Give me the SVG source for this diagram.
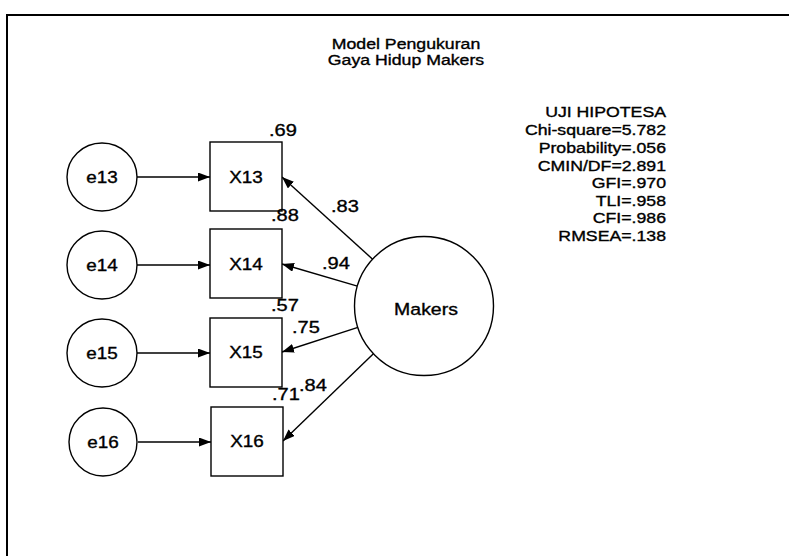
<svg xmlns="http://www.w3.org/2000/svg" width="789" height="556" viewBox="0 0 789 556">
<style>
text{font-family:"Liberation Sans",Arial,sans-serif;fill:#000;stroke:#000;stroke-width:0.35}
.t{font-size:15px;text-anchor:middle}
.s{font-size:15px;text-anchor:end}
.n{font-size:16px;text-anchor:middle}
.m{font-size:16.5px;text-anchor:middle}
.v{font-size:17px;text-anchor:start}
.shape{fill:#fff;stroke:#000;stroke-width:1.4}
.conn{stroke:#000;stroke-width:1.4;fill:none;marker-end:url(#ah)}
</style>
<defs>
<marker id="ah" markerWidth="14" markerHeight="10" refX="12" refY="4.5" orient="auto" markerUnits="userSpaceOnUse">
<path d="M0,0 L12,4.5 L0,9 z" fill="#000"/>
</marker>
</defs>
<rect width="789" height="556" fill="#fff"/>
<g id="frame" fill="none" stroke="#000" stroke-width="2">
<path d="M7,556 L7,15 L789,15"/>
</g>
<g id="title">
<text class="t" transform="translate(406,49) scale(1.18,1)">Model Pengukuran</text>
<text class="t" transform="translate(406,65) scale(1.18,1)">Gaya Hidup Makers</text>
</g>
<g id="stats">
<text class="s" transform="translate(666,117) scale(1.18,1)">UJI HIPOTESA</text>
<text class="s" transform="translate(666,135) scale(1.18,1)">Chi-square=5.782</text>
<text class="s" transform="translate(666,152.5) scale(1.18,1)">Probability=.056</text>
<text class="s" transform="translate(666,170.5) scale(1.18,1)">CMIN/DF=2.891</text>
<text class="s" transform="translate(666,188) scale(1.18,1)">GFI=.970</text>
<text class="s" transform="translate(666,205.5) scale(1.18,1)">TLI=.958</text>
<text class="s" transform="translate(666,222.5) scale(1.18,1)">CFI=.986</text>
<text class="s" transform="translate(666,240.5) scale(1.18,1)">RMSEA=.138</text>
</g>
<g id="connectors">
<line class="conn" x1="137" y1="177" x2="210" y2="177"/>
<line class="conn" x1="137" y1="265" x2="210" y2="265"/>
<line class="conn" x1="137" y1="353" x2="210" y2="353"/>
<line class="conn" x1="138" y1="442" x2="211" y2="442"/>
<line class="conn" x1="372.6" y1="259.2" x2="282" y2="177"/>
<line class="conn" x1="357.4" y1="286.2" x2="282" y2="264"/>
<line class="conn" x1="357.9" y1="327.4" x2="282" y2="352"/>
<line class="conn" x1="373.4" y1="353.7" x2="283" y2="441"/>
</g>
<g id="e13"><ellipse class="shape" cx="102" cy="177" rx="35" ry="34"/><text class="n" transform="translate(102,183) scale(1.18,1)">e13</text></g>
<g id="e14"><ellipse class="shape" cx="102" cy="265" rx="35" ry="34"/><text class="n" transform="translate(102,271) scale(1.18,1)">e14</text></g>
<g id="e15"><ellipse class="shape" cx="102" cy="353" rx="35" ry="34"/><text class="n" transform="translate(102,359) scale(1.18,1)">e15</text></g>
<g id="e16"><ellipse class="shape" cx="103" cy="442" rx="34" ry="34"/><text class="n" transform="translate(103,448) scale(1.18,1)">e16</text></g>
<g id="X13"><rect class="shape" x="210" y="142" width="72" height="69"/><text class="n" transform="translate(246,183) scale(1.18,1)">X13</text></g>
<g id="X14"><rect class="shape" x="210" y="229" width="72" height="69"/><text class="n" transform="translate(246,270) scale(1.18,1)">X14</text></g>
<g id="X15"><rect class="shape" x="210" y="318" width="72" height="69"/><text class="n" transform="translate(246,358) scale(1.18,1)">X15</text></g>
<g id="X16"><rect class="shape" x="211" y="407" width="72" height="69"/><text class="n" transform="translate(247,447) scale(1.18,1)">X16</text></g>
<g id="Makers"><circle class="shape" cx="424" cy="306" r="69.5"/><text class="m" transform="translate(426,315) scale(1.18,1)">Makers</text></g>
<g id="labels">
<text class="v" transform="translate(269,136) scale(1.18,1)">.69</text>
<text class="v" transform="translate(271,221) scale(1.18,1)">.88</text>
<text class="v" transform="translate(271,311) scale(1.18,1)">.57</text>
<text class="v" transform="translate(272,400) scale(1.18,1)">.71</text>
<text class="v" transform="translate(331,212) scale(1.18,1)">.83</text>
<text class="v" transform="translate(322,269) scale(1.18,1)">.94</text>
<text class="v" transform="translate(292,333) scale(1.18,1)">.75</text>
<text class="v" transform="translate(299,391) scale(1.18,1)">.84</text>
</g>
</svg>
